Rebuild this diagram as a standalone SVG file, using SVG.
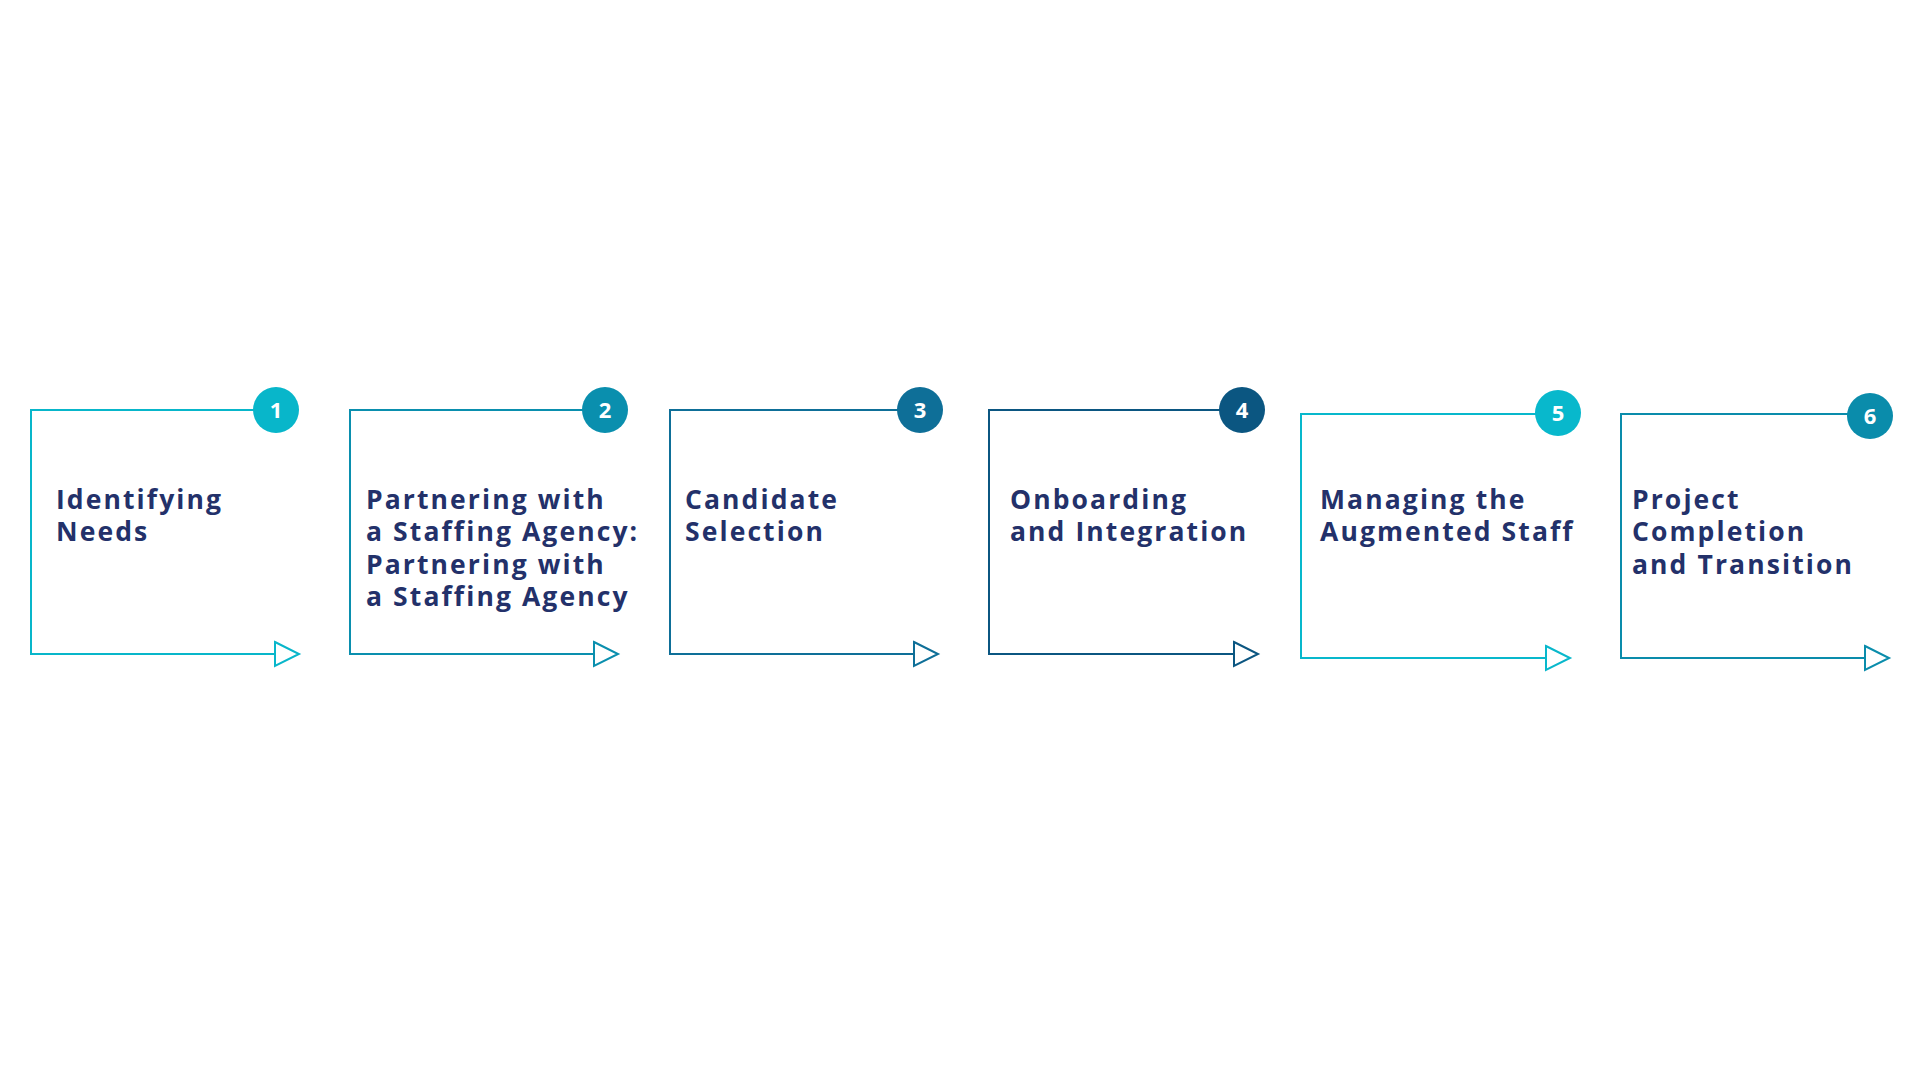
<svg xmlns="http://www.w3.org/2000/svg" width="1920" height="1080" viewBox="0 0 1920 1080">
<style>
.box{fill:none;stroke-width:2}
.lbl{font-family:"Open Sans","Noto Sans",sans-serif;font-weight:700;font-size:26.5px;letter-spacing:2.1px;fill:#23316a}
.num{font-family:"Open Sans","Noto Sans",sans-serif;font-weight:700;font-size:22px;fill:#fff;text-anchor:middle}
.c1{stroke:#08b6ca}.f1{fill:#08b6ca}
.c2{stroke:#0a8fae}.f2{fill:#0a8fae}
.c3{stroke:#0e6f98}.f3{fill:#0e6f98}
.c4{stroke:#0b5681}.f4{fill:#0b5681}
.c5{stroke:#08b8cc}.f5{fill:#08b8cc}
.c6{stroke:#0a8cab}.f6{fill:#0a8cab}
</style>
<rect width="1920" height="1080" fill="#fff"/>
<g id="step1">
<path class="box c1" d="M276,410 H31 V654 H275"/>
<path class="box c1" d="M275,642 L299,654 L275,666 Z"/>
<circle class="f1" cx="276" cy="410" r="23"/>
<text class="num" x="276" y="418">1</text>
<text class="lbl" x="56" y="509">Identifying</text>
<text class="lbl" x="56" y="541">Needs</text>
</g>
<g id="step2">
<path class="box c2" d="M605,410 H350 V654 H594"/>
<path class="box c2" d="M594,642 L618,654 L594,666 Z"/>
<circle class="f2" cx="605" cy="410" r="23"/>
<text class="num" x="605" y="418">2</text>
<text class="lbl" x="366" y="509">Partnering with</text>
<text class="lbl" x="366" y="541">a Staffing Agency:</text>
<text class="lbl" x="366" y="574">Partnering with</text>
<text class="lbl" x="366" y="606">a Staffing Agency</text>
</g>
<g id="step3">
<path class="box c3" d="M920,410 H670 V654 H914"/>
<path class="box c3" d="M914,642 L938,654 L914,666 Z"/>
<circle class="f3" cx="920" cy="410" r="23"/>
<text class="num" x="920" y="418">3</text>
<text class="lbl" x="685" y="509">Candidate</text>
<text class="lbl" x="685" y="541">Selection</text>
</g>
<g id="step4">
<path class="box c4" d="M1242,410 H989 V654 H1234"/>
<path class="box c4" d="M1234,642 L1258,654 L1234,666 Z"/>
<circle class="f4" cx="1242" cy="410" r="23"/>
<text class="num" x="1242" y="418">4</text>
<text class="lbl" x="1010" y="509">Onboarding</text>
<text class="lbl" x="1010" y="541">and Integration</text>
</g>
<g id="step5">
<path class="box c5" d="M1558,414 H1301 V658 H1546"/>
<path class="box c5" d="M1546,646 L1570,658 L1546,670 Z"/>
<circle class="f5" cx="1558" cy="413" r="23"/>
<text class="num" x="1558" y="421">5</text>
<text class="lbl" x="1320" y="509">Managing the</text>
<text class="lbl" x="1320" y="541">Augmented Staff</text>
</g>
<g id="step6">
<path class="box c6" d="M1870,414 H1621 V658 H1865"/>
<path class="box c6" d="M1865,646 L1889,658 L1865,670 Z"/>
<circle class="f6" cx="1870" cy="416" r="23"/>
<text class="num" x="1870" y="424">6</text>
<text class="lbl" x="1632" y="509">Project</text>
<text class="lbl" x="1632" y="541">Completion</text>
<text class="lbl" x="1632" y="574">and Transition</text>
</g>
<g id="connectors"></g>
</svg>
